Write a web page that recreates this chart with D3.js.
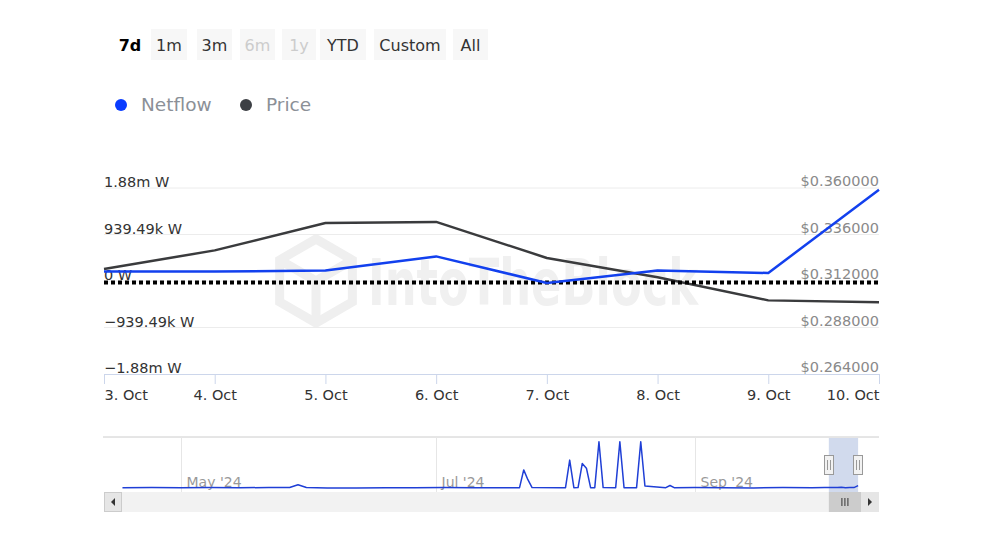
<!DOCTYPE html>
<html>
<head>
<meta charset="utf-8">
<script src="https://cdn.jsdelivr.net/npm/d3@7"></script>
<style>
  html, body { margin: 0; padding: 0; background: #ffffff; }
  svg { display: block; font-family: "DejaVu Sans", sans-serif; }
</style>
</head>
<body>
<svg id="chart" width="984" height="554"></svg>
<script>
// ---------------- DATA ----------------
const dates = ["2024-10-03","2024-10-04","2024-10-05","2024-10-06","2024-10-07","2024-10-08","2024-10-09","2024-10-10"];
const netflow = [190000, 190000, 214000, 497000, -40000, 214000, 162000, 1845000];
const price = [0.3182, 0.3278, 0.3419, 0.3425, 0.3239, 0.3139, 0.3020, 0.3010];

const netflowTicks = [-1878980, -939490, 0, 939490, 1878980];
const netflowTickLabels = ["\u22121.88m W", "\u2212939.49k W", "0 W", "939.49k W", "1.88m W"];
const priceTicks = [0.264, 0.288, 0.312, 0.336, 0.360];
const priceTickLabels = ["$0.264000", "$0.288000", "$0.312000", "$0.336000", "$0.360000"];
const xTickLabels = ["3. Oct","4. Oct","5. Oct","6. Oct","7. Oct","8. Oct","9. Oct","10. Oct"];

const rangeButtons = ["7d","1m","3m","6m","1y","YTD","Custom","All"];
const rangeDisabled = [false,false,false,true,true,false,false,false];
const legendNames = ["Netflow","Price"];

// navigator (longer history of netflow, in W)
const navDates = ["2024-04-17","2024-04-24","2024-05-01","2024-05-08","2024-05-15","2024-05-22","2024-05-27",
  "2024-05-29","2024-05-31","2024-06-05","2024-06-12","2024-06-19","2024-06-26","2024-07-03","2024-07-10",
  "2024-07-17","2024-07-21","2024-07-22","2024-07-23","2024-07-24","2024-07-31","2024-08-01","2024-08-02",
  "2024-08-03","2024-08-04","2024-08-05","2024-08-06","2024-08-07","2024-08-08","2024-08-09","2024-08-10",
  "2024-08-13","2024-08-14","2024-08-15","2024-08-18","2024-08-19","2024-08-20","2024-08-25","2024-08-26",
  "2024-08-27","2024-09-01","2024-09-08","2024-09-15","2024-09-22","2024-09-29","2024-10-02",
  "2024-10-03","2024-10-04","2024-10-05","2024-10-06","2024-10-07","2024-10-08","2024-10-09","2024-10-10"];
const navValues = [100000, 150000, 120000, 200000, 100000, 150000, 200000,
  2600000, 300000, -200000, -100000, 100000, -50000, 150000, 100000,
  120000, 100000, 15500000, 7000000, 150000, 100000, 120000, 24000000,
  100000, 150000, 21000000, 17000000, 100000, 120000, 40000000, 150000,
  100000, 40000000, 100000, 120000, 40000000, 1500000, 100000, 2000000,
  100000, 150000, 100000, -100000, 150000, 120000, 200000,
  190000, 190000, 214000, 497000, -40000, 214000, 162000, 1845000];
const navMonthTicks = ["2024-05-01","2024-07-01","2024-09-01"];

// ---------------- SETUP ----------------
const parse = d3.timeParse("%Y-%m-%d");
const svg = d3.select("#chart");
const C = { blue: "#1240ee", dark: "#3a3b3d", grid: "#ececec", axis: "#ccd6eb" };

const plot = { left: 104, right: 879, top: 188, bottom: 374 };

const x = d3.scaleTime().domain(d3.extent(dates, parse)).range([plot.left, plot.right]);
const yN = d3.scaleLinear().domain([netflowTicks[0], netflowTicks[4]]).range([plot.bottom, plot.top]);
const yP = d3.scaleLinear().domain([priceTicks[0], priceTicks[4]]).range([plot.bottom, plot.top]);

// ---------------- RANGE BUTTONS ----------------
const btnBoxes = [[114,146],[151,187],[197,232],[240,275],[282,316],[320,366],[374,446],[453,488]];
const btnG = svg.append("g");
rangeButtons.forEach((b, i) => {
  const [x0, x1] = btnBoxes[i];
  if (i > 0) {
    btnG.append("rect").attr("x", x0).attr("y", 29).attr("width", x1 - x0).attr("height", 31)
      .attr("fill", "#f7f7f7");
  }
  btnG.append("text").attr("x", (x0 + x1) / 2).attr("y", 51).attr("text-anchor", "middle")
    .attr("font-size", 16).attr("font-weight", i === 0 ? "bold" : "normal")
    .attr("fill", i === 0 ? "#000" : (rangeDisabled[i] ? "#cccccc" : "#333333"))
    .text(b);
});

// ---------------- LEGEND ----------------
const legendColors = ["#0a3cff", "#3d4045"];
const legendX = [121, 246];
legendNames.forEach((n, i) => {
  svg.append("circle").attr("cx", legendX[i]).attr("cy", 105).attr("r", 6).attr("fill", legendColors[i]);
  svg.append("text").attr("x", legendX[i] + 20).attr("y", 111).attr("font-size", 18.5)
    .attr("fill", "#8b9097").text(n);
});

// ---------------- WATERMARK ----------------
const wm = svg.append("g");
const hexR = 42, hcx = 316, hcy = 281;
const hexPts = d3.range(6).map(k => {
  const a = Math.PI / 3 * k - Math.PI / 2;
  return [hcx + hexR * Math.cos(a), hcy + hexR * Math.sin(a)];
});
wm.append("path").attr("d", d3.line()(hexPts) + "Z").attr("fill", "none")
  .attr("stroke", "#efefef").attr("stroke-width", 9);
wm.append("path").attr("d", d3.line()([hexPts[5], [hcx, hcy], hexPts[1]]) + d3.line()([[hcx, hcy], hexPts[3]]))
  .attr("fill", "none").attr("stroke", "#efefef").attr("stroke-width", 9);
const wmG = wm.append("g");
const wmText = wmG.append("text").attr("x", 0).attr("y", 0).attr("font-size", 64).attr("font-weight", "bold")
  .attr("fill", "#f0f0f0").text("IntoTheBlock");
const wmNatural = wmText.node().getComputedTextLength() || 485;
wmG.attr("transform", `translate(368,305) scale(${330 / wmNatural},1)`);

// ---------------- GRID & AXES ----------------
const gridG = svg.append("g");
netflowTicks.forEach((t, i) => {
  if (i === 0) return;
  gridG.append("line").attr("x1", plot.left).attr("x2", plot.right)
    .attr("y1", yN(t)).attr("y2", yN(t)).attr("stroke", C.grid).attr("stroke-width", 1);
});

// left labels
netflowTicks.forEach((t, i) => {
  svg.append("text").attr("x", plot.left).attr("y", yN(t) - 1).attr("font-size", 14.5)
    .attr("fill", "#333333").text(netflowTickLabels[i]);
});
// right labels
priceTicks.forEach((t, i) => {
  svg.append("text").attr("x", plot.right).attr("y", yP(t) - 2).attr("text-anchor", "end")
    .attr("font-size", 14.5).attr("fill", "#8a8a8a").text(priceTickLabels[i]);
});

// x axis
const xAxis = d3.axisBottom(x).tickValues(dates.map(parse)).tickSize(10).tickFormat((d, i) => xTickLabels[i]);
const xg = svg.append("g").attr("transform", `translate(0,${plot.bottom})`).call(xAxis);
xg.select(".domain").attr("stroke", C.axis);
xg.selectAll(".tick line").attr("stroke", C.axis);
xg.selectAll(".tick text").attr("font-size", 14.5).attr("fill", "#333333")
  .attr("font-family", "DejaVu Sans, sans-serif").attr("dy", "0.92em")
  .attr("text-anchor", (d, i) => i === 0 ? "start" : (i === dates.length - 1 ? "end" : "middle"));

// ---------------- SERIES ----------------
const lineP = d3.line().x((d, i) => x(parse(dates[i]))).y(d => yP(d));
const lineN = d3.line().x((d, i) => x(parse(dates[i]))).y(d => yN(d));

svg.append("path").datum(price).attr("d", lineP).attr("fill", "none")
  .attr("stroke", C.dark).attr("stroke-width", 2.5).attr("stroke-linejoin", "round");

// zero reference (dotted)
svg.append("line").attr("x1", plot.left).attr("x2", plot.right)
  .attr("y1", yN(0) + 1.5).attr("y2", yN(0) + 1.5)
  .attr("stroke", "#000").attr("stroke-width", 4).attr("stroke-dasharray", "4,3");

svg.append("path").datum(netflow).attr("d", lineN).attr("fill", "none")
  .attr("stroke", C.blue).attr("stroke-width", 2.5).attr("stroke-linejoin", "round");

// ---------------- NAVIGATOR ----------------
const nav = { top: 437, bottom: 492, lineBottom: 488, lineTop: 441.7 };
const navX = d3.scaleTime().domain([new Date(2024, 3, 12, 14), new Date(2024, 9, 15)]).range([plot.left, plot.right]);
const navY = d3.scaleLinear().domain(d3.extent(navValues)).range([nav.lineBottom, nav.lineTop]);

const navG = svg.append("g");
navG.append("line").attr("x1", plot.left - 1).attr("x2", plot.right).attr("y1", nav.top).attr("y2", nav.top)
  .attr("stroke", "#cccccc").attr("stroke-width", 1);
navMonthTicks.forEach(m => {
  const xx = Math.round(navX(parse(m))) + 0.5;
  navG.append("line").attr("x1", xx).attr("x2", xx).attr("y1", nav.top).attr("y2", nav.bottom)
    .attr("stroke", "#e6e6e6").attr("stroke-width", 1);
  navG.append("text").attr("x", xx + 5).attr("y", 487).attr("font-size", 14)
    .attr("fill", "#999999").text(d3.timeFormat("%b '%y")(parse(m)));
});

// selection mask
const selX0 = navX(parse(dates[0])), selX1 = navX(parse(dates[dates.length - 1]));
navG.append("rect").attr("x", selX0).attr("y", nav.top + 1).attr("width", selX1 - selX0)
  .attr("height", nav.bottom - nav.top - 1).attr("fill", "rgba(102,133,194,0.3)");

const navLine = d3.line().x((d, i) => navX(parse(navDates[i]))).y(d => navY(d));
navG.append("path").datum(navValues).attr("d", navLine).attr("fill", "none")
  .attr("stroke", "#1f3fd6").attr("stroke-width", 1.5).attr("stroke-linejoin", "round");

// handles
[selX0, selX1].forEach(hx => {
  const g = navG.append("g").attr("transform", `translate(${Math.round(hx)},0)`);
  g.append("rect").attr("x", -4.5).attr("y", 455.5).attr("width", 9).attr("height", 19)
    .attr("fill", "#f2f2f2").attr("stroke", "#999999");
  g.append("line").attr("x1", -1.5).attr("x2", -1.5).attr("y1", 460).attr("y2", 470).attr("stroke", "#999");
  g.append("line").attr("x1", 1.5).attr("x2", 1.5).attr("y1", 460).attr("y2", 470).attr("stroke", "#999");
});

// scrollbar
const sb = { top: 492, h: 20 };
navG.append("rect").attr("x", plot.left).attr("y", sb.top).attr("width", plot.right - plot.left).attr("height", sb.h)
  .attr("fill", "#f2f2f2");
navG.append("rect").attr("x", plot.left + 0.5).attr("y", sb.top + 0.5).attr("width", 17).attr("height", sb.h - 1)
  .attr("fill", "#e6e6e6").attr("stroke", "#cccccc");
navG.append("path").attr("d", d3.line()([[115, sb.top + 6], [115, sb.top + 14], [111, sb.top + 10]]) + "Z").attr("fill", "#333");
navG.append("rect").attr("x", selX0).attr("y", sb.top).attr("width", plot.right - 18 - selX0).attr("height", sb.h)
  .attr("fill", "#cccccc");
const thumbC = (selX0 + plot.right - 18) / 2;
[-3, 0, 3].forEach(o => {
  navG.append("line").attr("x1", thumbC + o).attr("x2", thumbC + o).attr("y1", sb.top + 6).attr("y2", sb.top + 14)
    .attr("stroke", "#333").attr("stroke-width", 1);
});
navG.append("rect").attr("x", plot.right - 18).attr("y", sb.top).attr("width", 18).attr("height", sb.h)
  .attr("fill", "#e6e6e6");
navG.append("path").attr("d", d3.line()([[868, sb.top + 6], [868, sb.top + 14], [872, sb.top + 10]]) + "Z").attr("fill", "#333");
</script>
</body>
</html>
